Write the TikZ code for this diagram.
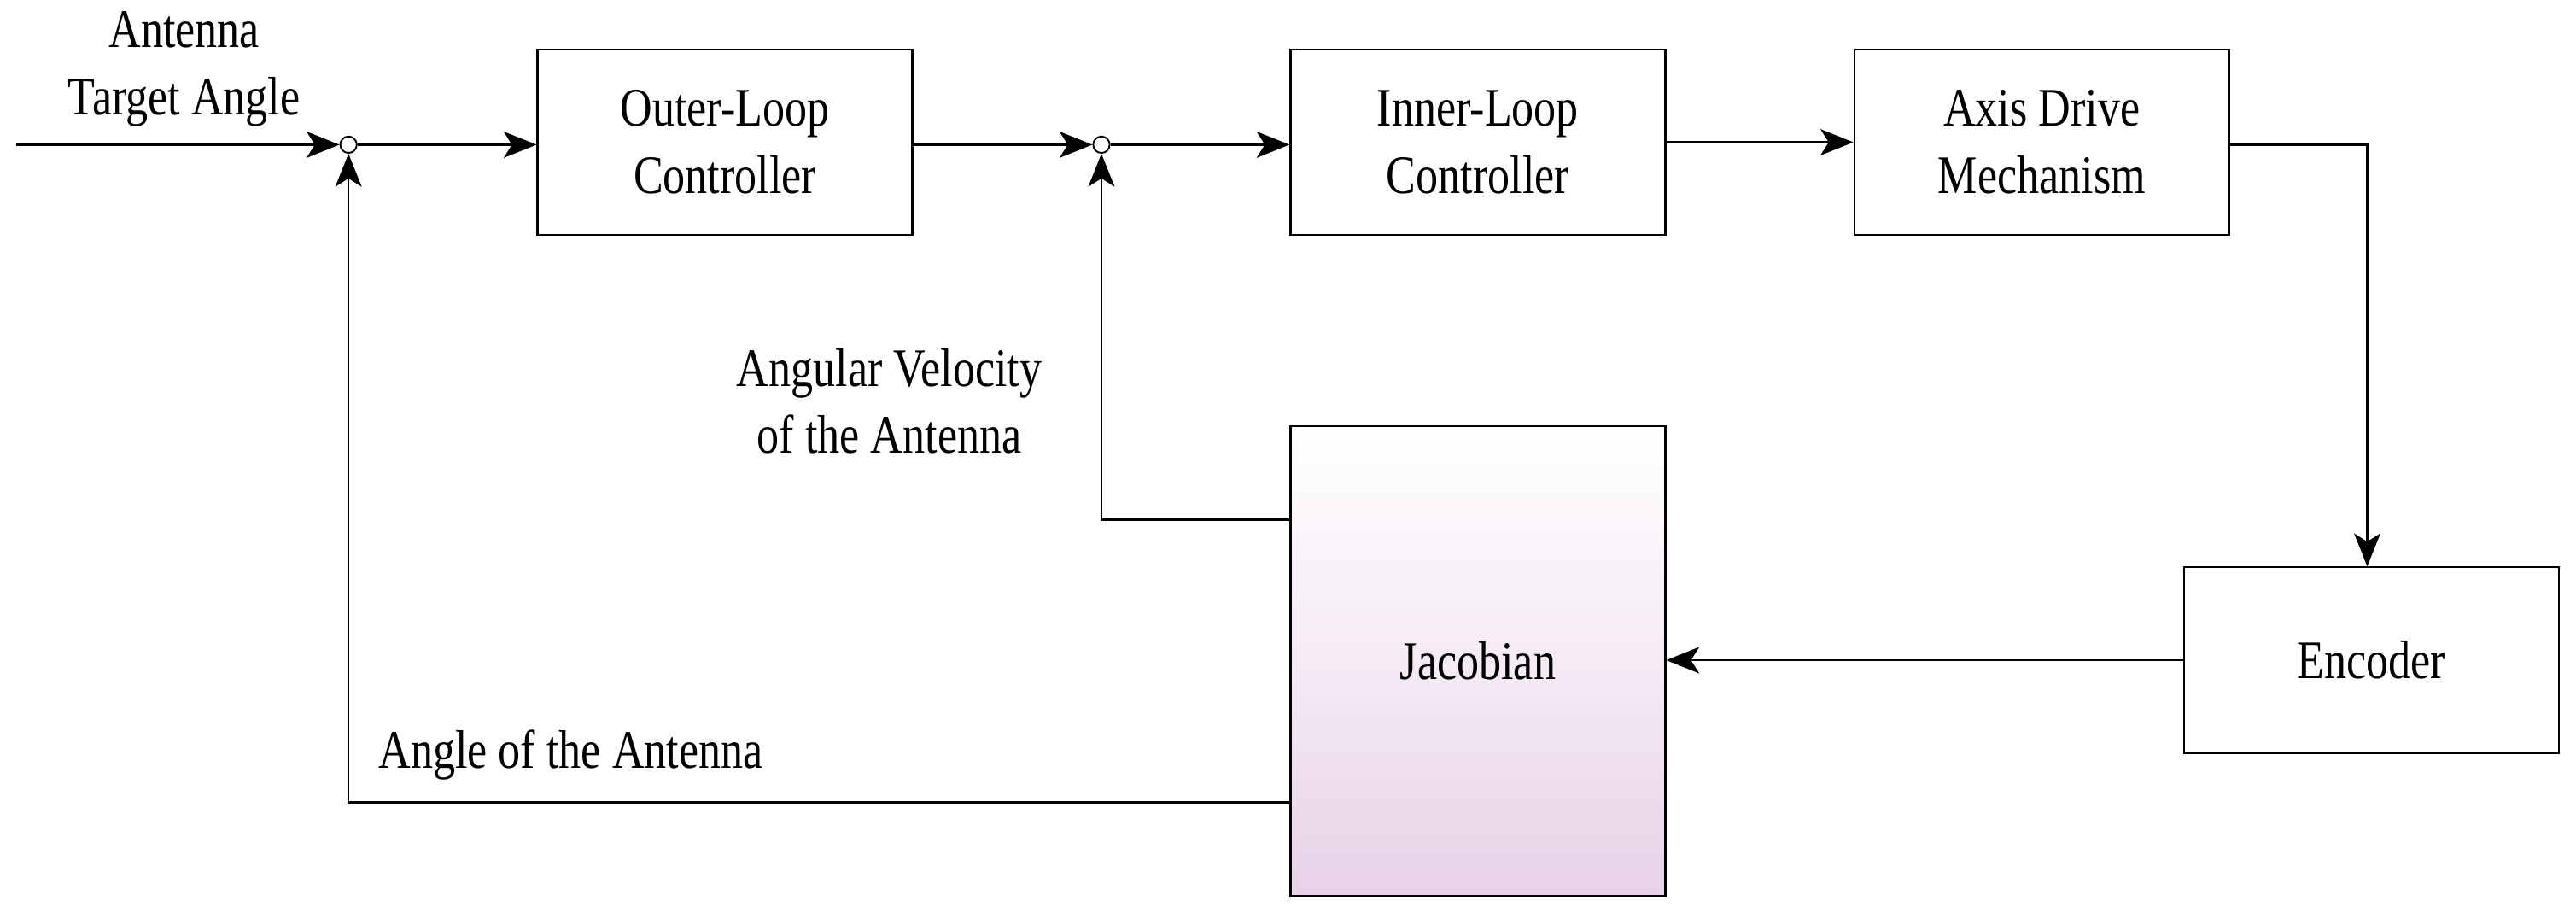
\documentclass[tikz,border=0pt]{standalone}
\usepackage{fontspec}
\setmainfont{Liberation Serif}[FakeStretch=0.82]
\usetikzlibrary{arrows.meta}
\begin{document}
\begin{tikzpicture}[x=0.5pt,y=-0.5pt,
  font=\fontsize{16.5}{20.5}\selectfont,
  blk/.style={draw,line width=0.6pt,minimum width=114pt,minimum height=56.5pt,align=center,inner sep=0},
  sum/.style={draw,circle,minimum size=5pt,inner sep=0,line width=0.5pt},
  ar/.style={-{Stealth[length=10pt,width=8pt,inset=2.5pt]},line width=0.6pt},
  ln/.style={line width=0.6pt},
  lbl/.style={align=center,inner sep=0}]
\useasboundingbox (0,0) rectangle (1567,555);
\node[sum] (s1) at (212,88) {};
\node[sum] (s2) at (670,88) {};
\node[blk] (outer) at (441,86.5) {Outer-Loop\\Controller};
\node[blk] (inner) at (899,86.5) {Inner-Loop\\Controller};
\node[blk] (axis) at (1242,86.5) {Axis Drive\\Mechanism};
\node[blk] (enc) at (1442.5,401.5) {Encoder};
\node[blk,minimum height=143pt,top color=white,bottom color=black!4!violet!18!white,middle color=violet!8!white] (jac) at (899,402) {Jacobian};
\coordinate (in) at (10,88);
\coordinate (c1) at (1440,88);
\coordinate (jv) at (785,316);
\coordinate (ja) at (785,488);
\draw[ar] (in) -- (s1);
\draw[ar] (s1) -- (outer.west|-s1);
\draw[ar] (outer.east|-s2) -- (s2);
\draw[ar] (s2) -- (inner.west|-s2);
\draw[ar] (inner.east|-axis) -- (axis.west);
\draw[ar] (axis.east|-c1) -- (c1) -- (c1|-enc.north);
\draw[ar] (enc.west) -- (jac.east|-enc.west);
\draw[ar] (jv) -- (s2|-jv) -- (s2);
\draw[ar] (ja) -- (s1|-ja) -- (s1);
\node[lbl] (t1) at (112,42) {Antenna\\Target Angle};
\node[lbl] (t2) at (541,244) {Angular Velocity\\of the Antenna};
\node[lbl,anchor=west] (t3) at (230,459) {Angle of the Antenna};
\end{tikzpicture}
\end{document}
